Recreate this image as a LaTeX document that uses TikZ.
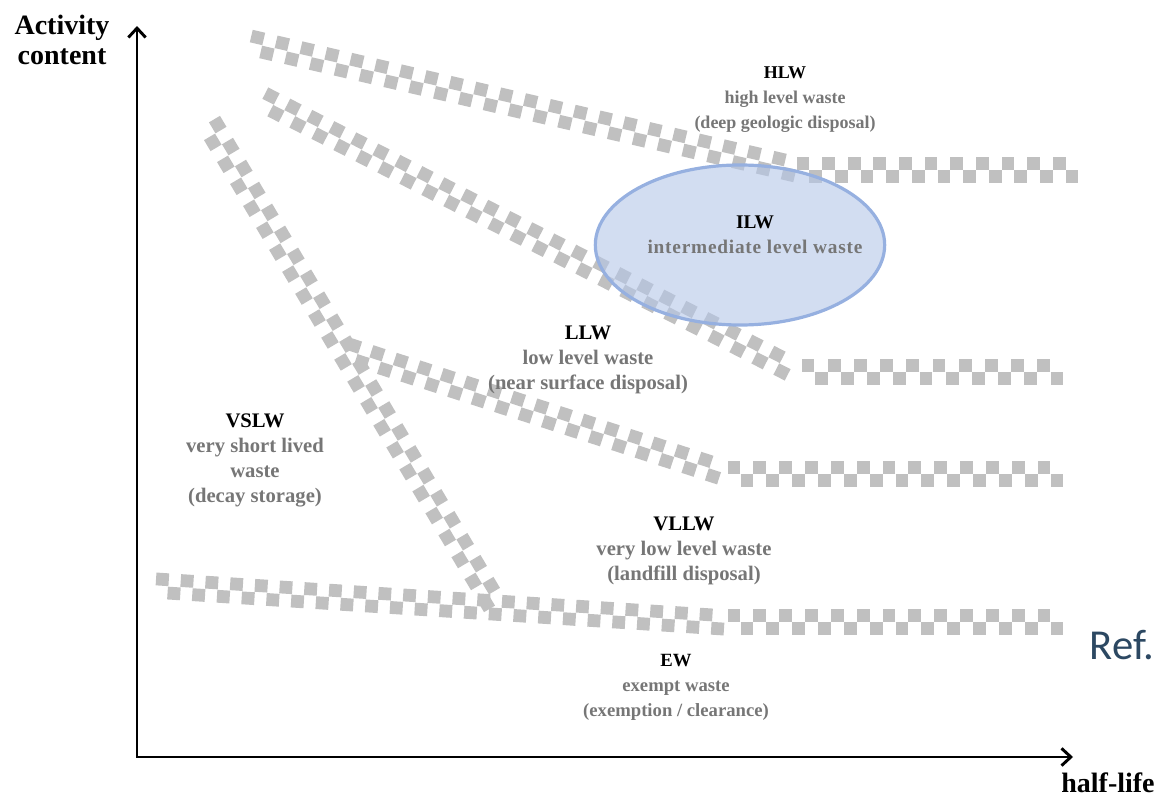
\documentclass[tikz,border=0pt]{standalone}
\usepackage{fontspec}
\setmainfont{Liberation Serif}
\newfontfamily\refsans{Carlito}
\usetikzlibrary{arrows.meta,shapes.geometric}

\definecolor{bandgray}{RGB}{192,192,192}
\definecolor{labelgray}{RGB}{118,118,118}
\definecolor{zonefill}{RGB}{180,198,231}
\definecolor{zoneedge}{RGB}{150,176,224}
\definecolor{refblue}{RGB}{44,72,98}

\newcommand{\zonefont}[1]{\fontsize{#1}{18.75}\selectfont\bfseries}
\tikzset{
  cell/.style={fill=bandgray, draw=none, inner sep=0pt, minimum size=9.6pt},
  axis/.style={line width=2.2pt, {Straight Barb[length=7pt,width=13pt]}-{Straight Barb[length=7pt,width=13pt]}},
  axistitle/.style={align=center, font=\fontsize{21}{22.5}\selectfont\bfseries},
  zonelabel/.style={align=center, text=labelgray, font=\zonefont{#1}},
  zonelabel/.default=14,
  ilwzone/.style={ellipse, minimum width=217pt, minimum height=120pt, fill=zonefill, fill opacity=0.6, draw=zoneedge, line width=2.4pt}
}

% checkered band of squares from #1 to #2, #3 steps (odd)
\newcommand{\checkband}[3]{%
  \foreach \i [evaluate=\i as \p using \i/#3, evaluate=\i as \q using (\i+1)/#3] in {0,2,...,#3}
    \path (#1) -- (#2) node[cell, pos=\p, sloped, anchor=south] {} node[cell, pos=\q, sloped, anchor=north] {};%
}
\newcommand{\zonename}[1]{\textcolor{black}{#1}}

\begin{document}
\begin{tikzpicture}[x=0.75pt, y=-0.75pt]
  \useasboundingbox (0,0) rectangle (1158,803);

  % axes
  \coordinate (origin) at (137,757);
  \coordinate (ytip) at (137,26);
  \coordinate (xtip) at (1073,757);
  \draw[axis] (ytip) -- (origin) -- (xtip);
  \node[axistitle] (ylabel) at (62,40) {Activity\\content};
  \node[axistitle] (xlabel) at (1108,783) {half-life};

  % band corners
  \coordinate (hl1) at (256,44);  \coordinate (hl2) at (790,168);
  \coordinate (hl3) at (803,170); \coordinate (hl4) at (1072,170);
  \coordinate (il1) at (268,102); \coordinate (il2) at (785,366);
  \coordinate (il3) at (808,372); \coordinate (il4) at (1057,372);
  \coordinate (vs1) at (212,128); \coordinate (vs2) at (492,600);
  \coordinate (ll1) at (352,352); \coordinate (ll2) at (715,470);
  \coordinate (ll3) at (734,474); \coordinate (ll4) at (1057,474);
  \coordinate (ew1) at (162,586); \coordinate (ew2) at (718,622);
  \coordinate (ew3) at (734,622); \coordinate (ew4) at (1057,622);

  % bands
  \checkband{hl1}{hl2}{43}
  \checkband{hl3}{hl4}{21}
  \checkband{il1}{il2}{47}
  \checkband{il3}{il4}{19}
  \checkband{vs1}{vs2}{43}
  \checkband{ll1}{ll2}{31}
  \checkband{ll3}{ll4}{25}
  \checkband{ew1}{ew2}{45}
  \checkband{ew3}{ew4}{25}

  % ILW zone
  \node[ilwzone] (ilwzone) at (740,245) {};

  % labels
  \node[zonelabel=13.5] (hlw) at (785,100) {\zonename{HLW}\\high level waste\\(deep geologic disposal)};
  \node[zonelabel=14.5] (ilw) at (755,235) {\zonename{ILW}\\\addfontfeature{LetterSpace=4}intermediate level waste};
  \node[zonelabel=15.5] (llw) at (588,360) {\zonename{LLW}\\low level waste\\(near surface disposal)};
  \node[zonelabel=15.5] (vslw) at (255,460) {\zonename{VSLW}\\very short lived\\waste\\(decay storage)};
  \node[zonelabel=15.5] (vllw) at (684,551) {\zonename{VLLW}\\very low level waste\\(landfill disposal)};
  \node[zonelabel] (ew) at (676,687) {\zonename{EW}\\exempt waste\\(exemption / clearance)};
  \node[text=refblue, font=\refsans\fontsize{32}{38}\selectfont] (ref) at (1122,645) {Ref.};
\end{tikzpicture}
\end{document}
